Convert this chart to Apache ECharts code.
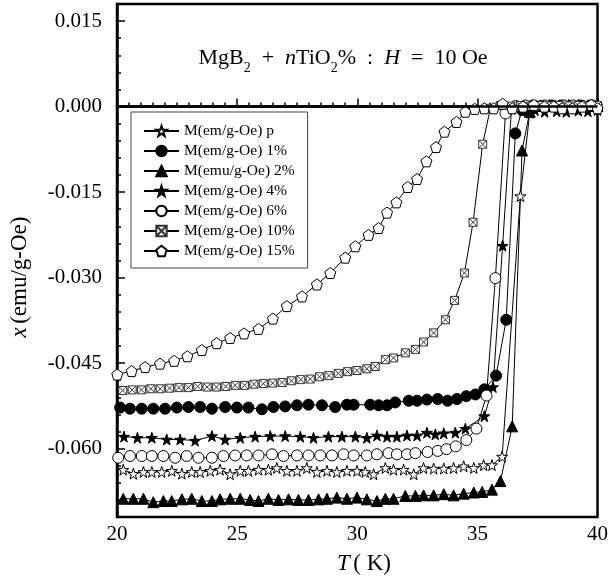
<!DOCTYPE html>
<html>
<head>
<meta charset="utf-8">
<script src="https://cdn.jsdelivr.net/npm/echarts@6/dist/echarts.min.js"></script>
<style>
html, body { margin: 0; padding: 0; background: #fff; }
#result { width: 611px; height: 583px; }
</style>
</head>
<body>
<div id="result"></div>
<script>
var myChart = echarts.init(document.getElementById('result'));

var names = ['M(em/g-Oe) p', 'M(em/g-Oe) 1%', 'M(emu/g-Oe) 2%', 'M(em/g-Oe) 4%', 'M(em/g-Oe) 6%', 'M(em/g-Oe) 10%', 'M(em/g-Oe) 15%'];

// pure sample (open star)
var tP = [20.26, 20.68, 21.1, 21.45, 21.86, 22.28, 22.7, 23.11, 23.46, 23.88, 24.29, 24.71, 25.13, 25.47, 25.89, 26.3, 26.65, 27.07, 27.49, 27.9, 28.32, 28.74, 29.15, 29.57, 29.99,
	30.33, 30.68, 31.17, 31.51, 31.93, 32.35, 32.76, 33.18, 33.6, 34.01, 34.43, 34.85, 35.26, 35.61, 36.03, 36.79, 37.18, 37.6, 38.0, 38.4, 38.8, 39.2, 39.6, 40.0];
var mP = [-0.0637, -0.0644, -0.0641, -0.0641, -0.0641, -0.0639, -0.0644, -0.0641, -0.0641, -0.0639, -0.0637, -0.0645, -0.0639, -0.0639, -0.0637, -0.0637, -0.0634, -0.0639, -0.0639, -0.0634, -0.0641, -0.0639, -0.0641, -0.0639, -0.0639,
	-0.0641, -0.0645, -0.0634, -0.0637, -0.0637, -0.0645, -0.0634, -0.0635, -0.0635, -0.0634, -0.0631, -0.0634, -0.0629, -0.0629, -0.0614, -0.0157, -0.0011, 0.0002, 0.0003, 0.0002, 0.0003, 0.0003, 0.0002, 0.0002];

// 1% (filled circle)
var t1 = [20.13, 20.54, 21.03, 21.51, 22.0, 22.49, 22.97, 23.46, 23.95, 24.5, 24.99, 25.47, 26.03, 26.51, 27.0, 27.49, 27.97, 28.53, 29.08, 29.57, 29.85,
	30.54, 30.89, 31.24, 31.58, 32.14, 32.49, 32.9, 33.35, 33.76, 34.15, 34.54, 34.92, 35.29, 35.78, 36.2, 36.58, 36.86, 37.3, 37.7, 38.1, 38.5, 38.9, 39.3, 39.7];
var m1 = [-0.0528, -0.0530, -0.0530, -0.0530, -0.0530, -0.0528, -0.0527, -0.0527, -0.0530, -0.0527, -0.0528, -0.0528, -0.0531, -0.0527, -0.0526, -0.0524, -0.0523, -0.0524, -0.0527, -0.0523, -0.0523,
	-0.0523, -0.0524, -0.0524, -0.0519, -0.0516, -0.0516, -0.0514, -0.0513, -0.0516, -0.0513, -0.0508, -0.0505, -0.0496, -0.0472, -0.0374, -0.0047, -0.0006, 0.0002, 0.0001, 0.0002, 0.0002, 0.0001, 0.0002, 0.0002];

// 2% (filled triangle)
var t2 = [20.26, 20.68, 21.1, 21.51, 21.93, 22.28, 22.7, 23.11, 23.53, 23.95, 24.29, 24.71, 25.13, 25.54, 25.89, 26.3, 26.72, 27.14, 27.55, 27.97, 28.39, 28.74, 29.15, 29.57, 29.99,
	30.4, 30.82, 31.17, 31.51, 32.0, 32.42, 32.76, 33.18, 33.6, 34.01, 34.43, 34.85, 35.2, 35.61, 35.96, 36.45, 36.86, 37.18, 37.6, 38.0, 38.4, 38.8, 39.2, 39.6, 40.0];
var m2 = [-0.0688, -0.0688, -0.0688, -0.0694, -0.0692, -0.0692, -0.0689, -0.0688, -0.0692, -0.0692, -0.0689, -0.0688, -0.0688, -0.0690, -0.0692, -0.0688, -0.0690, -0.0689, -0.0690, -0.0690, -0.0689, -0.0688, -0.0686, -0.0688, -0.0686,
	-0.0689, -0.0692, -0.0688, -0.0688, -0.0683, -0.0683, -0.0682, -0.0682, -0.0680, -0.0682, -0.0679, -0.0677, -0.0676, -0.0672, -0.0657, -0.0561, -0.0077, -0.0009, 0.0001, 0.0002, 0.0001, 0.0002, 0.0001, 0.0002, 0.0001];

// 4% (filled star)
var t4 = [20.29, 20.85, 21.45, 22.07, 22.63, 23.25, 23.95, 24.5, 25.13, 25.75, 26.38, 27.0, 27.63, 28.18, 28.8, 29.36, 29.92,
	30.4, 30.82, 31.24, 31.65, 32.07, 32.49, 32.9, 33.25, 33.6, 34.08, 34.5, 35.29, 35.65, 36.05, 36.42, 36.9, 37.4, 37.8, 38.3, 38.7, 39.2, 39.6, 40.0];
var m4 = [-0.0579, -0.0581, -0.0581, -0.0584, -0.0584, -0.0586, -0.0578, -0.0584, -0.0581, -0.0579, -0.0578, -0.0578, -0.0579, -0.0581, -0.0579, -0.0579, -0.0579,
	-0.0581, -0.0577, -0.0579, -0.0579, -0.0577, -0.0577, -0.0572, -0.0575, -0.0573, -0.0572, -0.0565, -0.0543, -0.0492, -0.0244, -0.0004, -0.0008, -0.0006, -0.0009, -0.0008, -0.0009, -0.0007, -0.0008, -0.0006];

// 6% (open circle)
var t6 = [20.05, 20.54, 21.03, 21.45, 21.93, 22.42, 22.9, 23.39, 23.95, 24.43, 24.92, 25.4, 25.89, 26.45, 26.93, 27.49, 27.97, 28.46, 28.95, 29.43, 29.85,
	30.4, 30.82, 31.3, 31.65, 32.07, 32.42, 32.93, 33.35, 33.71, 34.1, 34.54, 34.96, 35.38, 35.75, 36.17, 36.6, 37.0, 37.4, 37.8, 38.2, 38.6, 39.0, 39.4, 39.8];
var m6 = [-0.0616, -0.0613, -0.0613, -0.0613, -0.0613, -0.0616, -0.0613, -0.0616, -0.0616, -0.0613, -0.0612, -0.0612, -0.0612, -0.0610, -0.0613, -0.0612, -0.0612, -0.0612, -0.0612, -0.0610, -0.0612,
	-0.0612, -0.0610, -0.0608, -0.0610, -0.0610, -0.0608, -0.0606, -0.0604, -0.0601, -0.0596, -0.0585, -0.0565, -0.0507, -0.0301, -0.0012, 0.0001, 0.0002, 0.0001, 0.0002, 0.0001, 0.0002, 0.0002, 0.0001, 0.0002];

// 10% (crossed square)
var t10 = [20.24, 20.63, 21.02, 21.41, 21.8, 22.19, 22.58, 22.97, 23.36, 23.75, 24.14, 24.53, 24.92, 25.31, 25.7, 26.09, 26.48, 26.87, 27.26, 27.65, 28.04, 28.43, 28.82, 29.21, 29.6, 29.99,
	30.4, 30.75, 31.17, 31.51, 32.0, 32.42, 32.76, 33.18, 33.67, 34.05, 34.46, 34.82, 35.22, 35.54, 35.95, 36.4, 36.8, 37.2, 37.6, 38.0, 38.4, 38.8, 39.2, 39.6, 40.0];
var m10 = [-0.0498, -0.0497, -0.0497, -0.0495, -0.0495, -0.0494, -0.0493, -0.0493, -0.0491, -0.0492, -0.0492, -0.0491, -0.0489, -0.0489, -0.0487, -0.0486, -0.0485, -0.0484, -0.0481, -0.0479, -0.0478, -0.0474, -0.0472, -0.0468, -0.0465, -0.0463,
	-0.0460, -0.0456, -0.0444, -0.0441, -0.0432, -0.0426, -0.0413, -0.0397, -0.0374, -0.0340, -0.0292, -0.0203, -0.0066, -0.0003, 0.0002, 0.0001, 0.0002, 0.0001, 0.0002, 0.0001, 0.0002, 0.0001, 0.0002, 0.0001, 0.0002];

// 15% (pentagon)
var t15 = [20.01, 20.61, 21.17, 21.79, 22.38, 22.93, 23.53, 24.15, 24.71, 25.29, 25.89, 26.49, 27.07, 27.7, 28.32, 28.88, 29.5, 29.92,
	30.47, 30.89, 31.24, 31.63, 32.1, 32.49, 32.88, 33.28, 33.63, 34.13, 34.5, 34.89, 35.29, 35.68, 36.05, 36.45, 36.9, 37.35, 37.79, 38.18, 38.53, 38.95, 39.36, 39.74, 40.0];
var m15 = [-0.0470, -0.0464, -0.0457, -0.0451, -0.0446, -0.0438, -0.0427, -0.0415, -0.0406, -0.0398, -0.0390, -0.0372, -0.0350, -0.0333, -0.0312, -0.0292, -0.0265, -0.0245,
	-0.0225, -0.0213, -0.0186, -0.0168, -0.0141, -0.0127, -0.0096, -0.0071, -0.0044, -0.0027, -0.0009, -0.0004, -0.0003, -0.0003, 0.0005, -0.0003, 0.0000, 0.0003, 0.0000, 0.0000, -0.0003, -0.0003, 0.0000, 0.0003, -0.0003];

var yTicks = [-0.06, -0.045, -0.03, -0.015, 0, 0.015];

var starPath = 'path://M50,0 L61.8,35.1 L98.5,35.1 L68.8,56.7 L79.4,91 L50,70 L20.6,91 L31.2,56.7 L1.5,35.1 L38.2,35.1 Z';
var pentPath = 'path://M50,0 L97.6,34.5 L79.4,90.5 L20.6,90.5 L2.4,34.5 Z';
var boxPath = 'path://M0,0 L100,0 L100,100 L0,100 Z M0,0 L100,100 M100,0 L0,100';

var serif = 'Liberation Serif';

function zip(t, m) {
	var out = [];
	for (var i = 0; i < t.length; i++) out.push([t[i], m[i]]);
	return out;
}

function mkSeries(name, t, m, symbol, size, fill) {
	return {
		name: name,
		type: 'line',
		data: zip(t, m),
		symbol: symbol,
		symbolSize: size,
		showAllSymbol: true,
		lineStyle: { color: '#000', width: 1 },
		itemStyle: { color: fill, borderColor: '#000', borderWidth: 1 },
		emphasis: { disabled: true },
		animation: false
	};
}

var series = [
	mkSeries(names[0], tP, mP, starPath, 11, '#fff'),
	mkSeries(names[1], t1, m1, 'circle', 11, '#000'),
	mkSeries(names[2], t2, m2, 'triangle', 11, '#000'),
	mkSeries(names[3], t4, m4, starPath, 11, '#000'),
	mkSeries(names[4], t6, m6, 'circle', 11, '#fff'),
	mkSeries(names[5], t10, m10, boxPath, 8, '#fff'),
	mkSeries(names[6], t15, m15, pentPath, 11, '#fff')
];
series[5].itemStyle.borderColor = '#333';

series[0].markLine = {
	silent: true,
	symbol: 'none',
	label: { show: false },
	lineStyle: { color: '#000', width: 2.5, type: 'solid' },
	data: [{ yAxis: 0 }]
};

var option = {
	animation: false,
	backgroundColor: '#fff',
	textStyle: { fontFamily: serif },
	grid: {
		left: 117, right: 13, top: 4, bottom: 66,
		show: true, borderColor: '#000', borderWidth: 2.5
	},
	legend: {
		orient: 'vertical',
		left: 131, top: 112,
		padding: [11, 13, 9, 12],
		itemGap: 4,
		itemWidth: 35,
		itemHeight: 13,
		borderColor: '#444',
		borderWidth: 1,
		textStyle: { fontFamily: serif, fontSize: 15.5, color: '#000', lineHeight: 15 },
		data: names
	},
	xAxis: {
		type: 'value',
		min: 20, max: 40, interval: 5,
		axisLine: { lineStyle: { color: '#000', width: 2.5 } },
		axisTick: { inside: true, length: 8, lineStyle: { color: '#000', width: 1.5 } },
		minorTick: { show: true, splitNumber: 10, length: 4, lineStyle: { color: '#000', width: 1.5 } },
		axisLabel: { fontFamily: serif, fontSize: 21, color: '#000', margin: 7 },
		splitLine: { show: false }
	},
	yAxis: [{
		type: 'value',
		min: -0.072, max: 0.018,
		axisLine: { lineStyle: { color: '#000', width: 2.5 } },
		axisTick: { inside: true, length: 8, customValues: yTicks, lineStyle: { color: '#000', width: 1.5 } },
		axisLabel: {
			customValues: yTicks, fontFamily: serif, fontSize: 21, color: '#000', margin: 15,
			formatter: function (v) { return v.toFixed(3); }
		},
		splitLine: { show: false }
	}, {
		type: 'value',
		position: 'left',
		min: -0.072, max: 0.018, interval: 0.003,
		axisLine: { show: false },
		axisTick: { inside: true, length: 4, lineStyle: { color: '#000', width: 1.5 } },
		axisLabel: { show: false },
		splitLine: { show: false }
	}],
	graphic: [{
		type: 'text',
		x: 343, y: 58,
		style: {
			text: '{a|MgB}{s|2}{a|  +  }{i|n}{a|TiO}{s|2}{a|%  :  }{i|H}{a|  =  10 Oe}',
			align: 'center', verticalAlign: 'middle',
			rich: {
				a: { fontFamily: serif, fontSize: 22, lineHeight: 34, fill: '#000' },
				i: { fontFamily: serif, fontSize: 22, lineHeight: 34, fontStyle: 'italic', fill: '#000' },
				s: { fontFamily: serif, fontSize: 14, verticalAlign: 'bottom', fill: '#000' }
			}
		}
	}, {
		type: 'text',
		x: 20, y: 277,
		rotation: Math.PI / 2,
		style: {
			text: '{i|x} {a|(emu/g-Oe)}',
			align: 'center', verticalAlign: 'middle',
			rich: {
				a: { fontFamily: serif, fontSize: 23, fill: '#000' },
				i: { fontFamily: serif, fontSize: 23, fontStyle: 'italic', fill: '#000' }
			}
		}
	}, {
		type: 'text',
		x: 364, y: 564,
		style: {
			text: '{i|T} {a|( K)}',
			align: 'center', verticalAlign: 'middle',
			rich: {
				a: { fontFamily: serif, fontSize: 23, fill: '#000' },
				i: { fontFamily: serif, fontSize: 23, fontStyle: 'italic', fill: '#000' }
			}
		}
	}],
	series: series
};

myChart.setOption(option);
</script>
</body>
</html>
